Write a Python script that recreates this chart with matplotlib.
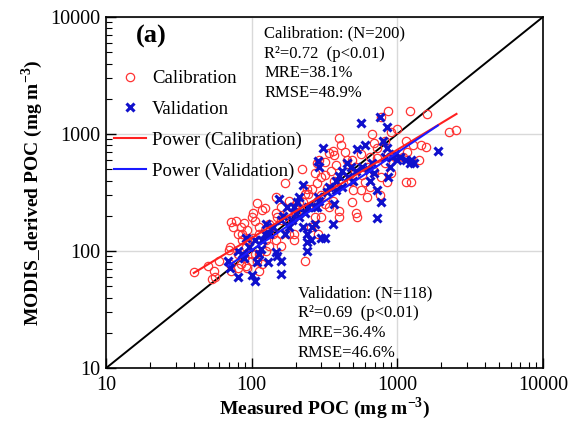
import numpy as np
import matplotlib
matplotlib.use("Agg")
import matplotlib.pyplot as plt

# measured vs MODIS-derived POC (mg m-3)
cal_x = [40, 50, 55, 53, 56, 60, 71, 70, 72, 74, 78, 72, 84, 86, 89, 93, 91, 100, 102, 105,
         108, 112, 118, 123, 112, 118, 108, 100, 92, 84, 125, 132, 146, 170, 160, 150, 140, 160,
         180, 188, 200, 195, 210, 220, 232, 240, 245, 232, 270, 283, 290, 300, 320, 330, 320, 340,
         360, 370, 380, 395, 410, 440, 450, 400, 400, 480, 500, 490, 520, 530, 560, 570, 600, 620,
         650, 670, 690, 730, 760, 770, 820, 850, 870, 900, 990, 1150, 1150, 1250, 1230, 1280, 1400,
         1450, 1580, 1610, 2250, 2550,
         80, 86, 93, 102, 112, 123, 132, 146, 160, 175, 185, 200, 210, 225, 245, 260, 280, 285, 300,
         320, 350, 370, 450, 490, 520, 560, 620, 650, 690, 730, 770, 820, 870, 900, 960, 1100, 1160,
         71, 80, 89, 105, 125, 132, 146, 160, 180, 195, 255, 270, 285, 300, 340, 360, 80, 112, 100, 93]
cal_y = [66, 75, 68, 58, 60, 83, 108, 103, 177, 160, 180, 68, 160, 140, 175, 125, 108, 195, 210, 180,
         255, 160, 225, 235, 95, 78, 83, 95, 75, 77, 125, 140, 290, 380, 240, 195, 140, 110,
         270, 185, 210, 140, 260, 505, 310, 340, 240, 83, 465, 560, 600, 430, 580, 345, 250, 690,
         720, 660, 540, 930, 800, 700, 600, 220, 195, 400, 330, 260, 210, 195, 330, 450, 390, 290,
         350, 1000, 830, 620, 300, 1400, 880, 390, 1580, 1050, 1110, 880, 390, 390, 1580, 800, 600,
         800, 770, 1490, 1050, 1080,
         140, 125, 150, 130, 140, 150, 170, 210, 185, 210, 240, 250, 210, 265, 305, 340, 385, 270, 300,
         445, 480, 395, 470, 600, 520, 680, 520, 630, 480, 760, 430, 560, 680, 460, 630, 640, 700,
         78, 95, 88, 95, 100, 110, 125, 140, 140, 125, 160, 195, 140, 195, 240, 270, 72, 68, 83, 72]

val_x = [69, 71, 80, 89, 91, 100, 105, 108, 112, 115, 123, 126, 130, 146, 150, 160, 160, 155, 165,
         170, 180, 188, 200, 205, 210, 225, 232, 240, 240, 240, 255, 260, 270, 280, 285, 285, 290,
         300, 320, 310, 330, 360, 370, 380, 400, 420, 450, 480, 500, 530, 560, 600, 640, 670, 690,
         720, 730, 760, 770, 800, 820, 850, 850, 870, 890, 920, 960, 990, 1050, 1150, 1220, 1250,
         1300, 1900,
         80, 86, 96, 105, 118, 132, 140, 160, 175, 195, 210, 225, 245, 270, 290, 340, 380, 420, 460,
         520, 570, 650]
val_y = [83, 72, 60, 88, 130, 62, 55, 80, 95, 105, 140, 170, 80, 98, 90, 64, 82, 280, 200,
         140, 160, 185, 210, 260, 290, 370, 210, 140, 120, 100, 125, 160, 170, 240, 290, 590, 520,
         130, 130, 760, 320, 170, 250, 330, 440, 480, 560, 520, 400, 740, 1230, 800, 490, 560, 460,
         330, 190, 1400, 260, 880, 640, 1150, 760, 430, 520, 640, 680, 600, 640, 600, 560, 600,
         560, 720,
         100, 95, 108, 125, 125, 140, 160, 185, 240, 240, 195, 160, 240, 240, 270, 350, 400, 350, 430,
         480, 520, 400]

plt.rcParams["font.family"] = ["Liberation Serif", "DejaVu Serif"]
plt.rcParams["mathtext.fontset"] = "custom"
plt.rcParams["mathtext.rm"] = "Liberation Serif"
plt.rcParams["mathtext.bf"] = "Liberation Serif:bold"

fig = plt.figure(figsize=(5.8, 4.25), dpi=100)
ax = fig.add_axes([0.183, 0.134, 0.753, 0.826])

ax.set_xscale("log")
ax.set_yscale("log")
ax.set_xlim(10, 10000)
ax.set_ylim(10, 10000)

ax.grid(True, which="major", color="#d9d9d9", lw=1)
ax.set_axisbelow(True)

ax.plot([10, 10000], [10, 10000], color="black", lw=1.4, zorder=2)

ax.plot(cal_x, cal_y, "o", mfc="none", mec="#ff3333", ms=6, mew=0.9, ls="none",
        label="Calibration", zorder=3)
ax.plot(val_x, val_y, "x", color="#1010cc", ms=6, mew=2.2, ls="none",
        label="Validation", zorder=4)

# power trend lines  y = a * x^b
def power_fit(x, y):
    b, loga = np.polyfit(np.log10(x), np.log10(y), 1)
    xx = np.array([min(x), max(x)])
    return xx, 10 ** loga * xx ** b

fx, fy = power_fit(cal_x, cal_y)
ax.plot(fx, fy, color="#ff2020", lw=1.5, label="Power (Calibration)", zorder=5)
fx, fy = power_fit(val_x, val_y)
ax.plot(fx, fy, color="#1a1aff", lw=1.5, label="Power (Validation)", zorder=5)

ax.tick_params(axis="both", which="both", direction="in", labelsize=14.5, top=False, right=False)
ax.tick_params(which="major", length=7, width=1)
ax.tick_params(which="minor", length=4, width=0.8)
ax.set_xticks([10, 100, 1000, 10000])
ax.set_xticklabels(["10", "100", "1000", "10000"])
ax.set_yticks([10, 100, 1000, 10000])
ax.set_yticklabels(["10", "100", "1000", "10000"])
ax.tick_params(axis="x", pad=6)
ax.tick_params(axis="y", pad=4)
for s in ax.spines.values():
    s.set_linewidth(1.2)

ax.set_xlabel(r"Measured POC (mg m$^{\mathbf{-3}}$)", fontsize=14, fontweight="bold", labelpad=0)
ax.set_ylabel(r"MODIS_derived POC (mg m$^{\mathbf{-3}}$)", fontsize=14, fontweight="bold", labelpad=4)

ax.legend(loc="upper left", bbox_to_anchor=(0.0, 0.87), frameon=False, fontsize=13.5,
          handlelength=1.7, handletextpad=0.35, labelspacing=0.72, borderaxespad=0,
          numpoints=1)

ax.text(0.103, 0.946, "(a)", transform=ax.transAxes, fontsize=19, fontweight="bold",
        ha="center", va="center")
ax.text(0.362, 0.975, "Calibration: (N=200)\nR²=0.72  (p<0.01)\nMRE=38.1%\nRMSE=48.9%",
        transform=ax.transAxes, fontsize=12, va="top", ha="left", linespacing=1.32)
ax.text(0.439, 0.235, "Validation: (N=118)\nR²=0.69  (p<0.01)\nMRE=36.4%\nRMSE=46.6%",
        transform=ax.transAxes, fontsize=12, va="top", ha="left", linespacing=1.32)

fig.savefig("out.png", dpi=100)
